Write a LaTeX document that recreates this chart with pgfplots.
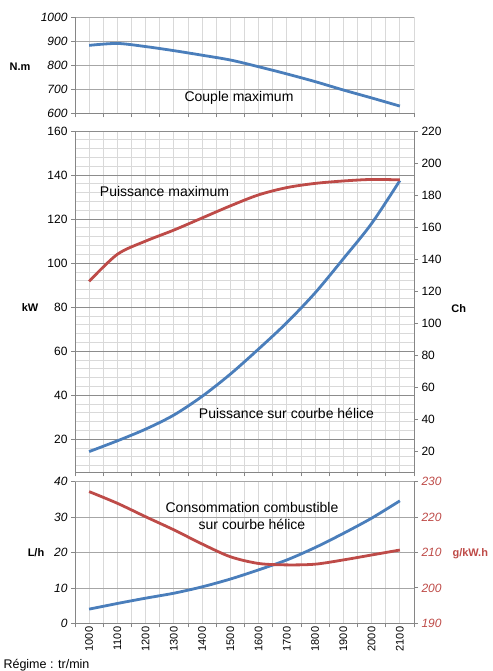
\documentclass[border=0pt]{standalone}
\usepackage{fontspec}
\setmainfont{Liberation Sans}
\usepackage{pgfplots}
\pgfplotsset{compat=1.18}

\definecolor{lineblue}{HTML}{4A7EBB}
\definecolor{linered}{HTML}{BE4B48}
\definecolor{gridlt}{HTML}{D9D9D9}
\definecolor{gridmd}{HTML}{A6A6A6}
\definecolor{griddk}{HTML}{8C8C8C}
\definecolor{axisgray}{HTML}{868686}

\pgfplotsset{
  panel/.style={
    scale only axis, width=339pt, anchor=south west,
    xmin=950, xmax=2150,
    axis x line*=bottom, axis y line*=left,
    xtick={950,1050,...,2150}, xticklabels={},
    minor xtick={950,1000,...,2150},
    xminorgrids,
    tick align=outside,
    major tick length=4pt, minor tick length=0pt,
    axis line style={axisgray, line width=0.8pt},
    tick style={axisgray, line width=0.8pt},
    minor grid style={gridlt, line width=0.8pt},
    major grid style={gridmd, line width=0.8pt},
    scaled ticks=false,
    /pgf/number format/assume math mode=true,
    /pgf/number format/1000 sep={},
    ticklabel style={font=\fontsize{12}{14}\selectfont, text=black},
  },
  rightaxis/.style={
    scale only axis, width=339pt, anchor=south west,
    xmin=950, xmax=2150,
    axis x line=none, axis y line*=right,
    tick align=outside, major tick length=4pt, minor tick length=0pt,
    axis line style={axisgray, line width=0.8pt},
    tick style={axisgray, line width=0.8pt},
    scaled ticks=false,
    /pgf/number format/assume math mode=true,
    ticklabel style={font=\fontsize{12}{14}\selectfont, text=black},
  },
  curve/.style={smooth, tension=0.5, line width=2.8pt, no markers},
}

\begin{document}
\begin{tikzpicture}
\path[use as bounding box] (0,0) rectangle (492pt,671pt);

% couple
\begin{axis}[panel, at={(75pt,557.7pt)}, height=96pt,
  ymin=600, ymax=1000, ytick={600,700,...,1000}, ymajorgrids,
  yticklabel style={font=\fontsize{12}{14}\selectfont\itshape}]
\addplot[curve, lineblue] coordinates {
  (1000,883)(1100,891)(1200,878)(1300,861)(1400,842)(1500,822)
  (1600,794)(1700,764)(1800,732)(1900,697)(2000,664)(2100,630)};
\end{axis}

% puissance
\begin{axis}[panel, at={(75pt,198.7pt)}, height=341.3pt,
  ymin=5, ymax=160, ytick={20,40,...,160}, ymajorgrids, yminorgrids,
  minor ytick={8,12,16,24,28,32,36,44,48,52,56,64,68,72,76,84,88,92,96,
    104,108,112,116,124,128,132,136,144,148,152,156},
  major grid style={griddk, line width=0.8pt}]
\addplot[curve, lineblue] coordinates {
  (1000,14.4)(1100,19.3)(1200,24.6)(1300,31)(1400,39.5)(1500,49.6)
  (1600,61)(1700,73)(1800,86.5)(1900,102)(2000,118)(2100,137.5)};
\addplot[curve, linered] coordinates {
  (1000,91.7)(1100,104)(1200,110)(1300,115)(1400,120.5)(1500,126)
  (1600,131)(1700,134.3)(1800,136.2)(1900,137.3)(2000,138)(2100,137.8)};
\end{axis}
\begin{axis}[rightaxis, at={(75pt,198.7pt)}, height=341.3pt,
  ymin=6.7, ymax=220, ytick={20,40,...,220}]
\addplot[draw=none] coordinates {(1000,20)};
\end{axis}

% consommation
\begin{axis}[panel, at={(75pt,47.7pt)}, height=141.6pt,
  ymin=0, ymax=40, ytick={0,10,...,40}, ymajorgrids,
  yticklabel style={font=\fontsize{12}{14}\selectfont\itshape},
  extra x ticks={1000,1100,...,2100},
  extra x tick labels={1000,1100,1200,1300,1400,1500,1600,1700,1800,1900,2000,2100},
  extra x tick style={major tick length=0pt, grid=none,
    xticklabel style={rotate=90, anchor=east, font=\fontsize{11}{13}\selectfont}}]
\addplot[curve, lineblue] coordinates {
  (1000,4.0)(1100,5.6)(1200,7.1)(1300,8.5)(1400,10.3)(1500,12.5)
  (1600,15.1)(1700,17.9)(1800,21.4)(1900,25.4)(2000,29.7)(2100,34.6)};
\end{axis}
\begin{axis}[rightaxis, at={(75pt,47.7pt)}, height=141.6pt,
  ymin=190, ymax=230, ytick={190,200,...,230},
  yticklabel style={font=\fontsize{12}{14}\selectfont\itshape, text=linered}]
\addplot[curve, linered] coordinates {
  (1000,227.2)(1100,223.9)(1200,220.1)(1300,216.4)(1400,212.4)(1500,208.8)
  (1600,206.9)(1700,206.5)(1800,206.7)(1900,207.9)(2000,209.3)(2100,210.7)};
\end{axis}

\begin{scope}[every node/.style={font=\fontsize{14}{17}\selectfont}]
\node at (239pt,573pt) {Couple maximum};
\node at (164.5pt,479.3pt) {Puissance maximum};
\node at (286.5pt,258pt) {Puissance sur courbe hélice};
\node[align=center] at (252pt,155pt) {Consommation combustible\\sur courbe hélice};
\end{scope}
\begin{scope}[every node/.style={font=\bfseries\fontsize{11}{13}\selectfont}]
\node at (20pt,604pt) {N.m};
\node at (30pt,363.3pt) {kW};
\node at (458.7pt,362.3pt) {Ch};
\node at (36pt,118.3pt) {L/h};
\node[anchor=west, text=linered] at (449pt,117.7pt) {g/kW.h};
\end{scope}
\node[anchor=west, font=\fontsize{12.5}{15}\selectfont] at (0pt,6pt) {Régime : tr/min};
\end{tikzpicture}
\end{document}
